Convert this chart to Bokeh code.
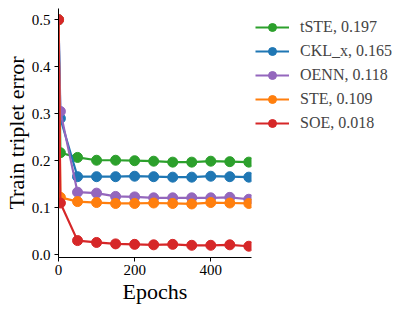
from bokeh.plotting import figure
from bokeh.models import Range1d, Legend, LegendItem, FixedTicker, CustomJSTickFormatter
from bokeh.embed import file_html
from bokeh.resources import INLINE

epochs = [0, 5, 50, 100, 150, 200, 250, 300, 350, 400, 450, 500]
names = ["tSTE, 0.197", "CKL_x, 0.165", "OENN, 0.118", "STE, 0.109", "SOE, 0.018"]
tste = [0.5, 0.217, 0.207, 0.201, 0.201, 0.200, 0.199, 0.197, 0.197, 0.199, 0.198, 0.197]
ckl = [0.5, 0.290, 0.166, 0.166, 0.166, 0.167, 0.166, 0.165, 0.165, 0.167, 0.166, 0.165]
oenn = [0.5, 0.305, 0.133, 0.131, 0.124, 0.123, 0.121, 0.121, 0.121, 0.121, 0.122, 0.118]
ste = [0.5, 0.122, 0.113, 0.111, 0.109, 0.109, 0.110, 0.109, 0.108, 0.111, 0.110, 0.109]
soe = [0.5, 0.110, 0.030, 0.026, 0.023, 0.022, 0.021, 0.022, 0.020, 0.020, 0.021, 0.018]
series = [tste, ckl, oenn, ste, soe]
colors = ["#2ca02c", "#1f77b4", "#9467bd", "#ff7f0e", "#d62728"]
x_ticks = [0, 200, 400]
y_ticks = [0.0, 0.1, 0.2, 0.3, 0.4, 0.5]

FONT = "Liberation Serif"

p = figure(frame_width=193, frame_height=249, min_border_left=51, min_border_right=10,
           min_border_top=8, min_border_bottom=40,
           x_range=Range1d(0, 507), y_range=Range1d(-0.006, 0.524),
           output_backend="svg", toolbar_location=None)
p.outline_line_color = None
p.grid.visible = False
p.background_fill_color = "white"
p.border_fill_color = "white"

items = []
for name, ys, c in zip(names, series, colors):
    r1 = p.line(epochs, ys, line_color=c, line_width=2.2)
    r2 = p.scatter(epochs, ys, size=10, fill_color=c, line_color=c)
    items.append(LegendItem(label=name, renderers=[r1, r2]))

for ax in [p.xaxis[0], p.yaxis[0]]:
    ax.axis_line_color = "black"
    ax.axis_line_width = 1
    ax.major_tick_line_color = "black"
    ax.major_tick_out = 4
    ax.major_tick_in = 0
    ax.minor_tick_line_color = None
    ax.major_label_text_font = FONT
    ax.major_label_text_font_size = "15px"
    ax.major_label_text_color = "black"
    ax.axis_label_text_font = FONT
    ax.axis_label_text_font_size = "22px"
    ax.axis_label_text_font_style = "normal"
    ax.axis_label_text_color = "black"

p.xaxis[0].major_label_standoff = 3
p.yaxis[0].major_label_standoff = 4
p.xaxis[0].ticker = FixedTicker(ticks=x_ticks)
p.yaxis[0].ticker = FixedTicker(ticks=y_ticks)
p.yaxis[0].formatter = CustomJSTickFormatter(code="return tick.toFixed(1);")
p.xaxis[0].axis_label = "Epochs"
p.yaxis[0].axis_label = "Train triplet error"
p.xaxis[0].axis_label_standoff = 1
p.yaxis[0].axis_label_standoff = 0

legend = Legend(items=items, location=(4, 124), padding=0, margin=0,
                glyph_width=34, glyph_height=20, label_height=20, spacing=4,
                label_standoff=11, label_text_font=FONT, label_text_font_size="16px",
                border_line_color=None, background_fill_alpha=0)
p.add_layout(legend, "right")

open("out.html", "w").write(file_html(p, INLINE))
